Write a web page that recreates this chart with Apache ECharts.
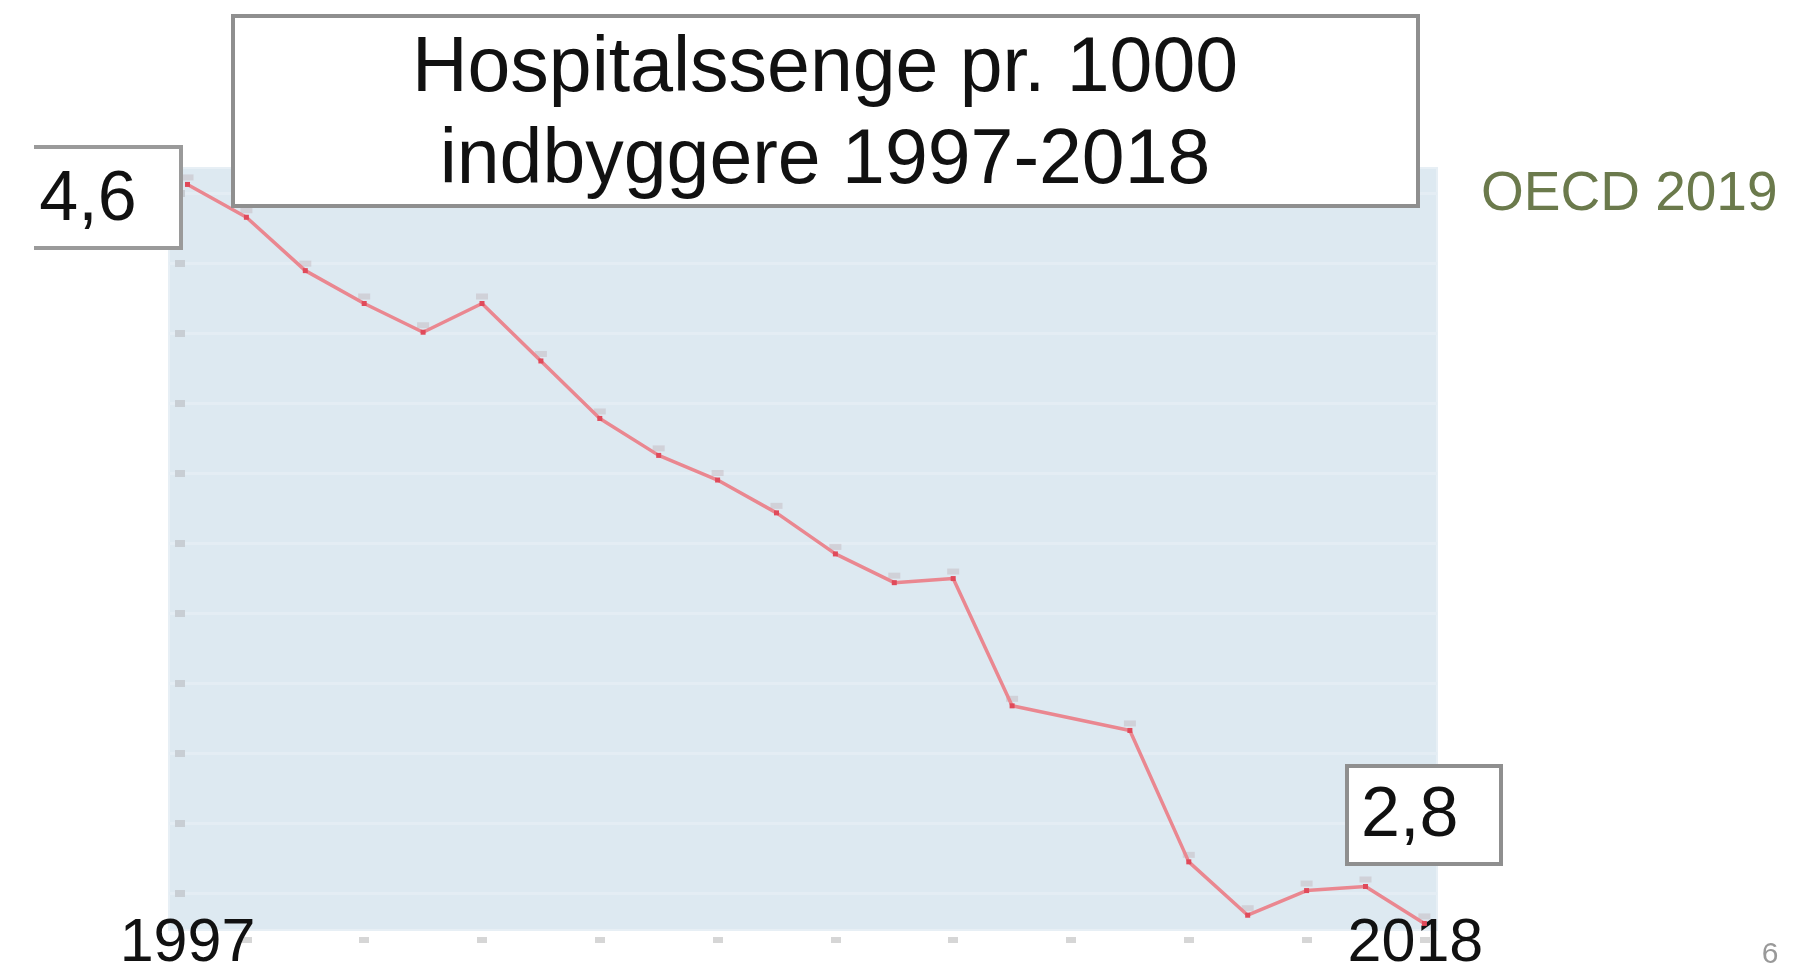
<!DOCTYPE html>
<html>
<head>
<meta charset="utf-8">
<title>Hospitalssenge pr. 1000 indbyggere 1997-2018</title>
<script src="https://cdn.jsdelivr.net/npm/echarts@6/dist/echarts.min.js"></script>
<style>
    html, body { margin: 0; padding: 0; background: #fff; }
    #chart { width: 1793px; height: 969px; }
</style>
</head>
<body>
<div id="chart"></div>
<script>
// år og værdier (2012 har intet punkt, linjen går direkte 2011 -> 2013)
let years = [1997, 1998, 1999, 2000, 2001, 2002, 2003, 2004, 2005, 2006, 2007,
    2008, 2009, 2010, 2011, 2012, 2013, 2014, 2015, 2016, 2017, 2018];
let beds = [4.60, 4.52, 4.39, 4.31, 4.24, 4.31, 4.17, 4.03, 3.94, 3.88, 3.80,
    3.70, 3.63, 3.64, 3.33, null, 3.27, 2.95, 2.82, 2.88, 2.89, 2.80];

// hjælpelinjer / små tick-mærker
let gridValues = [4.579, 4.409, 4.238, 4.068, 3.897, 3.727, 3.556, 3.386, 3.215, 3.045, 2.874];
let yearTicks = [1998, 2000, 2002, 2004, 2006, 2008, 2010, 2012, 2014, 2016, 2018];
let yearLabels = [1997, 2018];

let titleLines = ['Hospitalssenge pr. 1000', 'indbyggere 1997-2018'];
let startLabel = '4,6';
let endLabel = '2,8';
let sourceText = 'OECD 2019';
let pageNo = '6';

let FONT = '"Liberation Sans", Arial, sans-serif';

let seriesData = years.map((y, i) => [y, beds[i]]);

let chart = echarts.init(document.getElementById('chart'));

let option = {
    animation: false,
    backgroundColor: '#fff',
    textStyle: { fontFamily: FONT },
    grid: {
        left: 169,
        right: 356,
        top: 168,
        bottom: 39,
        outerBoundsMode: 'none',
        show: true,
        backgroundColor: '#dde9f1',
        borderColor: '#e7eff5',
        borderWidth: 2
    },
    xAxis: [
        {
            type: 'value',
            min: 1996.686,
            max: 2018.214,
            position: 'bottom',
            offset: 7,
            axisLine: { show: false },
            axisLabel: { show: false },
            splitLine: { show: false },
            axisTick: {
                show: true,
                customValues: yearTicks,
                length: 6,
                lineStyle: { color: '#d6d6d6', width: 10 }
            }
        },
        {
            type: 'value',
            min: 1996.686,
            max: 2018.214,
            position: 'bottom',
            offset: -16,
            axisLine: { show: false },
            axisTick: { show: false },
            splitLine: { show: false },
            axisLabel: {
                show: true,
                customValues: yearLabels,
                margin: 0,
                verticalAlign: 'top',
                fontSize: 61,
                color: '#111',
                fontFamily: FONT,
                // sidste årstal står lidt til venstre for sit punkt
                formatter: (v) => (v === yearLabels[1] ? '{last|' + v + '}' : String(v)),
                rich: {
                    last: { fontSize: 61, color: '#111', fontFamily: FONT, padding: [0, 18, 0, 0] }
                }
            }
        }
    ],
    yAxis: {
        type: 'value',
        min: 2.784,
        max: 4.640,
        offset: -6,
        axisLine: { show: false },
        axisLabel: { show: false },
        axisTick: {
            show: true,
            inside: true,
            customValues: gridValues,
            length: 10,
            lineStyle: { color: '#c8ced4', width: 7 }
        },
        splitLine: {
            show: true,
            lineStyle: { color: '#e4edf4', width: 3 }
        }
    },
    series: [
        {
            // grå skygge over hvert punkt
            type: 'scatter',
            data: seriesData,
            symbol: 'rect',
            symbolSize: [12, 6],
            symbolOffset: [0, -7],
            itemStyle: { color: 'rgba(190,172,180,0.5)' },
            silent: true,
            z: 2
        },
        {
            type: 'line',
            data: seriesData,
            connectNulls: true,
            symbol: 'rect',
            symbolSize: 5,
            showSymbol: true,
            lineStyle: { color: '#ea8790', width: 3.5 },
            itemStyle: { color: '#e04a5a' },
            z: 3
        }
    ],
    graphic: [
        // titelboks
        {
            type: 'rect',
            shape: { x: 233, y: 16, width: 1185, height: 190 },
            style: { fill: '#fff', stroke: '#8f8f8f', lineWidth: 4 },
            z: 10
        },
        {
            type: 'text',
            x: 825, y: 70,
            style: {
                text: titleLines[0], fill: '#111', font: '77px ' + FONT,
                align: 'center', verticalAlign: 'middle'
            },
            z: 11
        },
        {
            type: 'text',
            x: 825, y: 162,
            style: {
                text: titleLines[1], fill: '#111', font: '77px ' + FONT,
                align: 'center', verticalAlign: 'middle'
            },
            z: 11
        },
        // 4,6 boks (venstre kant er skåret af)
        {
            type: 'rect',
            shape: { x: 34, y: 147, width: 147, height: 101 },
            style: { fill: '#fff' },
            z: 10
        },
        {
            type: 'polyline',
            shape: { points: [[34, 147], [181, 147], [181, 248], [34, 248]] },
            style: { stroke: '#9a9a9a', lineWidth: 4, fill: null },
            z: 11
        },
        {
            type: 'text',
            x: 88, y: 201,
            style: {
                text: startLabel, fill: '#111', font: '70px ' + FONT,
                align: 'center', verticalAlign: 'middle'
            },
            z: 11
        },
        // 2,8 boks
        {
            type: 'rect',
            shape: { x: 1347, y: 766, width: 154, height: 98 },
            style: { fill: '#fff', stroke: '#8f8f8f', lineWidth: 4 },
            z: 10
        },
        {
            type: 'text',
            x: 1361, y: 817,
            style: {
                text: endLabel, fill: '#111', font: '70px ' + FONT,
                align: 'left', verticalAlign: 'middle'
            },
            z: 11
        },
        // kilde
        {
            type: 'text',
            x: 1481, y: 195,
            style: {
                text: sourceText, fill: '#6b7a4c', font: '55px ' + FONT,
                align: 'left', verticalAlign: 'middle'
            },
            z: 11
        },
        // sidetal
        {
            type: 'text',
            x: 1770, y: 955,
            style: {
                text: pageNo, fill: '#999', font: '30px ' + FONT,
                align: 'center', verticalAlign: 'middle'
            },
            z: 11
        }
    ]
};

chart.setOption(option);
</script>
</body>
</html>
